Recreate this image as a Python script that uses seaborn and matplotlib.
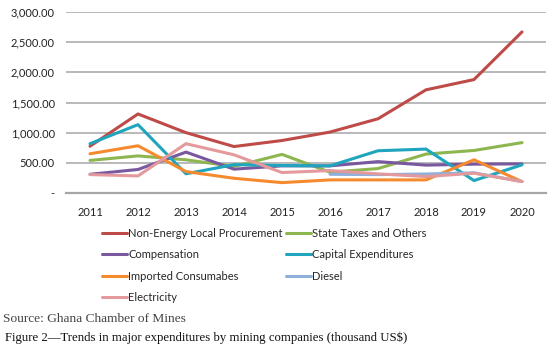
import pandas as pd
import seaborn as sns
import matplotlib.pyplot as plt
from matplotlib.ticker import FuncFormatter

years = list(range(2011, 2021))

non_energy = [775, 1310, 1000, 770, 870, 1010, 1230, 1710, 1880, 2670]
state_taxes = [540, 615, 550, 440, 640, 345, 405, 645, 705, 835]
compensation = [310, 390, 678, 395, 450, 450, 520, 462, 478, 483]
capital_exp = [817, 1133, 318, 470, 455, 450, 700, 728, 206, 467]
imported = [650, 783, 355, 244, 172, 217, 217, 217, 550, 189]
diesel = [None, None, None, None, None, 310, 305, 315, 335, 190]
electricity = [305, 283, 817, 633, 339, 372, 317, 272, 328, 189]

series = {
    'Non-Energy Local Procurement': non_energy,
    'State Taxes and Others': state_taxes,
    'Compensation': compensation,
    'Capital Expenditures': capital_exp,
    'Imported Consumabes': imported,
    'Diesel': diesel,
    'Electricity': electricity,
}
colors = {
    'Non-Energy Local Procurement': '#BE4B48',
    'State Taxes and Others': '#8DB550',
    'Compensation': '#7A58A0',
    'Capital Expenditures': '#1FA5BE',
    'Imported Consumabes': '#F58A2E',
    'Diesel': '#8EB0DA',
    'Electricity': '#E49A9C',
}

rows = []
for name, vals in series.items():
    for y, v in zip(years, vals):
        if v is not None:
            rows.append({'year': y, 'value': v, 'series': name})
df = pd.DataFrame(rows)

sns.set_style('white')
plt.rcParams['font.family'] = ['Lato', 'DejaVu Sans']

fig = plt.figure(figsize=(5.58, 3.48), dpi=100)
ax = fig.add_axes([66/558, 1 - 193/348, 480/558, 181/348])

sns.lineplot(data=df, x='year', y='value', hue='series', palette=colors,
             hue_order=list(series.keys()), linewidth=2.2, ax=ax, legend=False)

ax.set_xlim(2010.5, 2020.5)
ax.set_ylim(0, 3000)
ax.set_xticks(years)
ax.set_yticks(range(0, 3001, 500))
ax.yaxis.set_major_formatter(FuncFormatter(lambda v, p: '-' if v == 0 else f'{v:,.2f}'))
ax.grid(axis='y', color='#A6A6A6', linewidth=1.1)
ax.set_axisbelow(True)
for s in ['top', 'right', 'left']:
    ax.spines[s].set_visible(False)
ax.spines['bottom'].set_color('#A6A6A6')
ax.spines['bottom'].set_linewidth(1.6)
ax.tick_params(axis='both', length=0, labelsize=8, colors='#222222', pad=10)
ax.tick_params(axis='y', pad=8)
ax.set_xlabel('')
ax.set_ylabel('')

# legend: two columns, row-major reading order
order = ['Non-Energy Local Procurement', 'Compensation', 'Imported Consumabes', 'Electricity',
         'State Taxes and Others', 'Capital Expenditures', 'Diesel']
handles = [plt.Line2D([], [], color=colors[n], linewidth=2.2) for n in order]
fig.legend(handles, order, loc='upper left', bbox_to_anchor=(102/558, 1 - 228/348),
           ncol=2, frameon=False, fontsize=8, handlelength=2.25, handletextpad=0.12,
           labelspacing=0.93, columnspacing=0.25, borderaxespad=0, borderpad=0)

fig.text(3/558, 1 - 319/348, 'Source: Ghana Chamber of Mines', family='Liberation Serif',
         fontsize=9.6, color='#444444', va='center')
fig.text(5/558, 1 - 338/348, 'Figure 2\u2014Trends in major expenditures by mining companies (thousand US$)',
         family='Liberation Serif', fontsize=9.2, color='#111111', va='center')

fig.savefig('out.png', dpi=100)
